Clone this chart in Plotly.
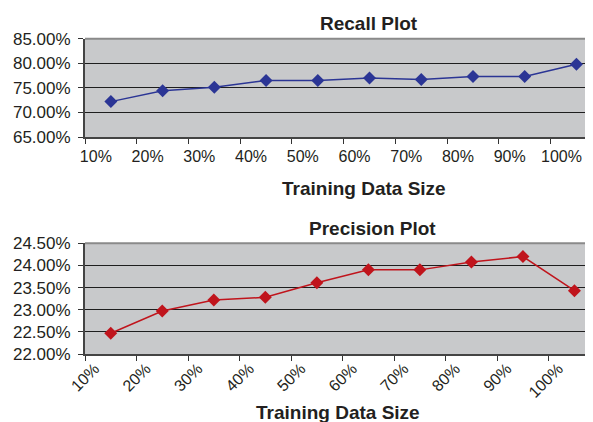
import plotly.graph_objects as go

sizes = ["10%", "20%", "30%", "40%", "50%", "60%", "70%", "80%", "90%", "100%"]
recall = [72.2, 74.4, 75.1, 76.5, 76.5, 77.0, 76.7, 77.3, 77.3, 79.8]
precision = [22.47, 22.97, 23.22, 23.28, 23.61, 23.90, 23.90, 24.08, 24.20, 23.43]

recall_ticks = [65, 70, 75, 80, 85]
precision_ticks = [22.0, 22.5, 23.0, 23.5, 24.0, 24.5]

# page is offset by the default 8px body margin
OFF = 8
W, H = 593 - OFF, 422 - OFF
FONT = "Liberation Sans, Arial, sans-serif"
TXT = "#231f20"
BG = "#c8c9cb"

def px_x(x):
    return (x - OFF) / W

def px_y(y):
    return 1 - (y - OFF) / H

fig = go.Figure()
fig.add_trace(go.Scatter(x=sizes, y=recall, mode="lines+markers", xaxis="x", yaxis="y",
                         line=dict(color="#2b3595", width=1.5),
                         marker=dict(symbol="diamond", size=10, color="#2b3595")))
fig.add_trace(go.Scatter(x=sizes, y=precision, mode="lines+markers", xaxis="x2", yaxis="y2",
                         line=dict(color="#c0141c", width=1.5),
                         marker=dict(symbol="diamond", size=10, color="#c0141c")))

xdom = [px_x(85), 1.0]
# the original chart's plot area runs past the right edge of the picture
common_x = dict(type="category", tickson="boundaries", ticks="outside", ticklen=5,
                tickcolor="#333", showline=True, linecolor="#444", linewidth=2,
                showgrid=False, tickfont=dict(family=FONT, size=16, color=TXT),
                domain=xdom, automargin=False)
common_y = dict(ticks="outside", ticklen=5, tickcolor="#333", showline=True,
                linecolor="#444", linewidth=2, showgrid=True, gridcolor="#1e1e1e",
                gridwidth=1.3, tickfont=dict(family=FONT, size=17, color=TXT),
                zeroline=False, automargin=False, ticklabelstandoff=4)

fig.update_layout(
    width=W, height=H, margin=dict(l=0, r=0, t=0, b=0),
    paper_bgcolor="white", plot_bgcolor=BG, showlegend=False,
    xaxis=dict(common_x, anchor="y", range=[-0.5, 9.32], ticklabelshift=-15,
               tickangle=0, ticklabelstandoff=4),
    yaxis=dict(common_y, anchor="x", domain=[px_y(137), px_y(38.7)],
               range=[65, 85], tickvals=recall_ticks,
               ticktext=[f"{v:.2f}%" for v in recall_ticks]),
    xaxis2=dict(common_x, anchor="y2", range=[-0.5, 9.36], ticklabelshift=-16,
                tickangle=-45, ticklabelstandoff=-3),
    yaxis2=dict(common_y, anchor="x2", domain=[px_y(354), px_y(243.3)],
                range=[22.0, 24.5], tickvals=precision_ticks,
                ticktext=[f"{v:.2f}%" for v in precision_ticks]),
)

# top border lines of plot areas
for yy in [38.7, 243.3]:
    fig.add_shape(type="line", xref="paper", yref="paper", x0=xdom[0], x1=xdom[1],
                  y0=px_y(yy), y1=px_y(yy), line=dict(color="#8a8a8a", width=2))

def ann(text, xpx, ypx):
    fig.add_annotation(text=f"<b>{text}</b>", xref="paper", yref="paper",
                       x=px_x(xpx), y=px_y(ypx), xanchor="center", yanchor="middle",
                       showarrow=False, font=dict(family=FONT, size=19, color=TXT))

ann("Recall Plot", 369, 23)
ann("Training Data Size", 364, 189)
ann("Precision Plot", 372, 228)
ann("Training Data Size", 338, 412)

fig.write_html("out.html", config={"displayModeBar": False})
